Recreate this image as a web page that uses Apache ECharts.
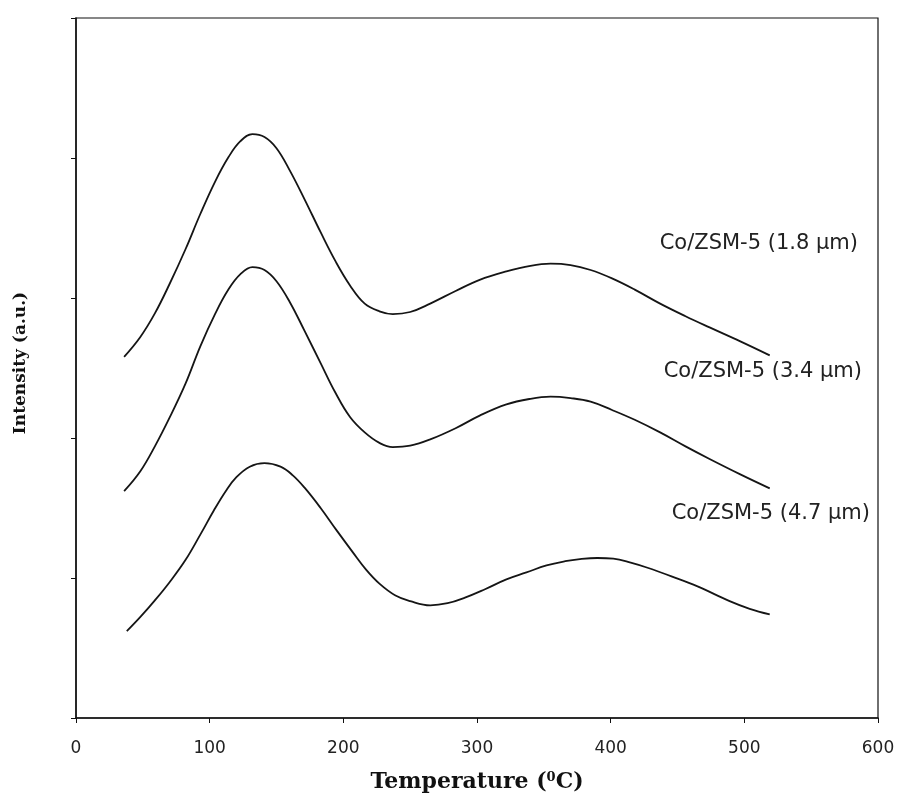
<!DOCTYPE html>
<html>
<head>
<meta charset="utf-8">
<script src="https://cdn.jsdelivr.net/npm/echarts@6/dist/echarts.min.js"></script>
<style>
  html, body { margin: 0; padding: 0; background: #fff; }
  #chart { width: 901px; height: 797px; }
</style>
</head>
<body>
<div id="chart"></div>
<script>
// temperature (C), shared by the two upper curves
var tempA = [36, 48, 59, 70, 82, 93, 104, 114, 123, 132, 141, 150, 160, 171, 183, 194, 205, 216, 227, 237, 250, 265, 284, 302, 322, 340, 355, 370, 385, 401, 418, 437, 456, 474, 497, 519];
// intensity (a.u.)
var int18 = [2.58, 2.72, 2.89, 3.10, 3.35, 3.60, 3.83, 4.005, 4.12, 4.17, 4.15, 4.07, 3.91, 3.705, 3.47, 3.265, 3.09, 2.96, 2.905, 2.885, 2.90, 2.96, 3.05, 3.13, 3.19, 3.23, 3.245, 3.235, 3.20, 3.14, 3.06, 2.96, 2.87, 2.79, 2.69, 2.59];
var int34 = [1.62, 1.76, 1.94, 2.145, 2.39, 2.655, 2.885, 3.06, 3.17, 3.22, 3.20, 3.12, 2.97, 2.765, 2.535, 2.325, 2.15, 2.04, 1.965, 1.935, 1.945, 1.99, 2.07, 2.16, 2.24, 2.28, 2.295, 2.285, 2.26, 2.20, 2.13, 2.04, 1.94, 1.85, 1.74, 1.64];

var temp47 = [38, 48, 59, 70, 82, 93, 103, 112, 120, 130, 141, 153, 162, 171, 183, 195, 207, 217, 227, 239, 250, 265, 278, 291, 306, 322, 337, 352, 366, 377, 390, 402, 415, 427, 446, 465, 489, 504, 519];
var int47 = [0.62, 0.72, 0.84, 0.97, 1.13, 1.31, 1.48, 1.62, 1.72, 1.795, 1.82, 1.795, 1.735, 1.645, 1.50, 1.34, 1.185, 1.06, 0.96, 0.875, 0.835, 0.805, 0.82, 0.86, 0.92, 0.99, 1.04, 1.09, 1.12, 1.135, 1.143, 1.138, 1.11, 1.075, 1.01, 0.94, 0.835, 0.78, 0.74];

var seriesNames = ['Co/ZSM-5 (1.8 μm)', 'Co/ZSM-5 (3.4 μm)', 'Co/ZSM-5 (4.7 μm)'];
var xTicks = [0, 100, 200, 300, 400, 500, 600];

function pairs(xs, ys) {
  var out = [];
  for (var i = 0; i < xs.length; i++) out.push([xs[i], ys[i]]);
  return out;
}

var myChart = echarts.init(document.getElementById('chart'));

var lineStyle = { color: '#151515', width: 1.8 };
var labelFont = '21px "DejaVu Sans"';

var option = {
  backgroundColor: '#fff',
  animation: false,
  grid: {
    left: 76, right: 23, top: 18, bottom: 79,
    outerBoundsMode: 'none',
    show: true, borderColor: '#111', borderWidth: 1.2, backgroundColor: 'transparent'
  },
  xAxis: {
    type: 'value',
    min: xTicks[0], max: xTicks[xTicks.length - 1], interval: 100,
    name: 'Temperature ({sup|0}C)',
    nameLocation: 'middle',
    nameGap: 53,
    nameTextStyle: {
      fontFamily: 'DejaVu Serif', fontWeight: 'bold', fontSize: 22, color: '#111',
      rich: { sup: { fontFamily: 'DejaVu Serif', fontWeight: 'bold', fontSize: 13, color: '#111', verticalAlign: 'top', padding: [0, 0, 10, 0] } }
    },
    axisLine: { lineStyle: { color: '#111', width: 1.5 } },
    axisTick: { show: true, inside: false, length: 5, lineStyle: { color: '#111' } },
    axisLabel: { fontFamily: 'DejaVu Sans', fontSize: 17, color: '#222', margin: 22 },
    splitLine: { show: false }
  },
  yAxis: {
    type: 'value',
    min: 0, max: 5, interval: 1,
    name: 'Intensity (a.u.)',
    nameLocation: 'middle',
    nameGap: 47,
    nameRotate: 90,
    nameTextStyle: { fontFamily: 'DejaVu Serif', fontWeight: 'bold', fontSize: 17, color: '#111', padding: [0, 0, 0, 10] },
    axisLine: { show: true, lineStyle: { color: '#111', width: 1.5 } },
    axisTick: { show: true, inside: false, length: 5, lineStyle: { color: '#111' } },
    axisLabel: { show: false },
    splitLine: { show: false }
  },
  graphic: [
    { type: 'text', right: 43, top: 233, style: { text: seriesNames[0], font: labelFont, fill: '#222' } },
    { type: 'text', right: 39, top: 361, style: { text: seriesNames[1], font: labelFont, fill: '#222' } },
    { type: 'text', right: 31, top: 503, style: { text: seriesNames[2], font: labelFont, fill: '#222' } }
  ],
  series: [
    { name: seriesNames[0], type: 'line', data: pairs(tempA, int18), smooth: 0.4, smoothConstraint: false, showSymbol: false, lineStyle: lineStyle },
    { name: seriesNames[1], type: 'line', data: pairs(tempA, int34), smooth: 0.4, smoothConstraint: false, showSymbol: false, lineStyle: lineStyle },
    { name: seriesNames[2], type: 'line', data: pairs(temp47, int47), smooth: 0.4, smoothConstraint: false, showSymbol: false, lineStyle: lineStyle }
  ]
};

myChart.setOption(option);
</script>
</body>
</html>
